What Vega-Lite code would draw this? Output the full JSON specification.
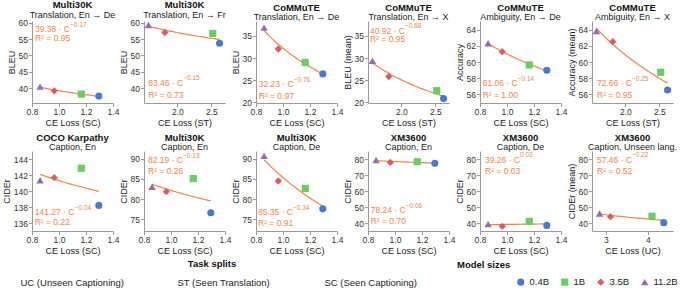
{
"$schema":"https://vega.github.io/schema/vega-lite/v6.json",
"padding":{"left":2,"top":0,"right":2,"bottom":0},
"columns":6,
"spacing":{"row":48,"column":31},
"bounds":"flush",
"resolve":{"scale":{"x":"independent","y":"independent","color":"shared","shape":"shared","strokeDash":"shared","size":"shared"}},
"config":{
 "font":"Liberation Sans",
 "view":{"stroke":null},
 "axis":{"grid":false,"labelFontSize":8.5,"titleFontSize":9,"titleFontWeight":"normal","tickSize":3.5,"labelPadding":1,"titlePadding":2,"domainColor":"#9a9a9a","tickColor":"#9a9a9a","labelColor":"#333333","titleColor":"#222222","labelFlush":false,"labelOverlap":false},
 "title":{"fontSize":9.5,"fontWeight":"bold","subtitleFontSize":9,"subtitlePadding":1,"offset":-1,"color":"#111111","subtitleColor":"#222222","anchor":"middle"},
 "legend":{"labelFontSize":9.5,"titleFontSize":9.5,"titleFontWeight":"bold","labelColor":"#222222","titleColor":"#111111","symbolSize":60,"columnPadding":10}
},
"concat":[
{"width":81,"height":82,"title":{"text":"Multi30K","subtitle":"Translation, En → De"},
 "data":{"values":[{"model":"0.4B","loss":1.295,"score":37.6,"split":"SC (Seen Captioning)"},{"model":"1B","loss":1.165,"score":38.2,"split":"SC (Seen Captioning)"},{"model":"3.5B","loss":0.965,"score":39.2,"split":"SC (Seen Captioning)"},{"model":"11.2B","loss":0.86,"score":40.5,"split":"SC (Seen Captioning)"}]},
 "layer":[
  {"transform":[{"regression":"score","on":"loss","method":"pow"}],"mark":{"type":"line","color":"#ee854a","strokeWidth":1.2},
   "encoding":{"x":{"field":"loss","type":"quantitative","scale":{"domain":[0.8,1.4],"nice":false,"zero":false},"axis":{"values":[0.8,1.0,1.2,1.4],"format":".1f","title":"CE Loss (SC)","labelOverlap":false}},"y":{"field":"score","type":"quantitative","scale":{"domain":[35.5,60.5],"nice":false,"zero":false},"axis":{"values":[40,45,50,55,60],"title":"BLEU","labelOverlap":false}}}},
  {"mark":{"type":"point","filled":true,"opacity":1},"encoding":{
   "x":{"field":"loss","type":"quantitative","scale":{"domain":[0.8,1.4],"nice":false,"zero":false},"axis":{"values":[0.8,1.0,1.2,1.4],"format":".1f","title":"CE Loss (SC)","labelOverlap":false}},"y":{"field":"score","type":"quantitative","scale":{"domain":[35.5,60.5],"nice":false,"zero":false},"axis":{"values":[40,45,50,55,60],"title":"BLEU","labelOverlap":false}},
   "size":{"field":"model","type":"nominal","scale":{"domain":["0.4B","1B","3.5B","11.2B"],"range":[50,55,85,65]},"legend":null},
   "shape":{"field":"model","type":"nominal","scale":{"domain":["0.4B","1B","3.5B","11.2B"],"range":["circle","square","diamond","triangle-up"]},"legend":{"title":["Model sizes"," "],"orient":"none","legendX":425,"legendY":256,"direction":"horizontal","titleOrient":"left","titleBaseline":"bottom","titleLineHeight":23}},
   "color":{"field":"model","type":"nominal","scale":{"domain":["0.4B","1B","3.5B","11.2B"],"range":["#4878d0","#6acc64","#d65f5f","#956cb4"]},"legend":{"title":["Model sizes"," "],"orient":"none","legendX":425,"legendY":256,"direction":"horizontal","titleOrient":"left","titleBaseline":"bottom","titleLineHeight":23}},
   "strokeDash":{"field":"split","type":"nominal","scale":{"domain":["UC (Unseen Captioning)","ST (Seen Translation)","SC (Seen Captioning)"],"range":[[1,0],[1,0],[1,0]]},"legend":{"title":"Task splits","orient":"none","legendX":-25,"legendY":238,"direction":"horizontal","titleAnchor":"middle","titlePadding":9,"symbolOpacity":0,"symbolSize":1,"columnPadding":40}}}},
  {"data":{"values":[{"a":"39.38 · C","e":"−0.17","r":"R² = 0.95"}]},"layer":[
   {"mark":{"type":"text","align":"left","baseline":"middle","fontSize":8.5,"color":"#ee854a"},"encoding":{"x":{"datum":0.822,"type":"quantitative","scale":{"domain":[0.8,1.4],"nice":false,"zero":false},"axis":{"values":[0.8,1.0,1.2,1.4],"format":".1f","title":"CE Loss (SC)","labelOverlap":false}},"y":{"datum":58.06,"type":"quantitative","scale":{"domain":[35.5,60.5],"nice":false,"zero":false},"axis":{"values":[40,45,50,55,60],"title":"BLEU","labelOverlap":false}},"text":{"field":"a"}}},
   {"mark":{"type":"text","align":"left","baseline":"middle","fontSize":6.5,"dx":35,"dy":-4.5,"color":"#ee854a"},"encoding":{"x":{"datum":0.822,"type":"quantitative","scale":{"domain":[0.8,1.4],"nice":false,"zero":false},"axis":{"values":[0.8,1.0,1.2,1.4],"format":".1f","title":"CE Loss (SC)","labelOverlap":false}},"y":{"datum":58.06,"type":"quantitative","scale":{"domain":[35.5,60.5],"nice":false,"zero":false},"axis":{"values":[40,45,50,55,60],"title":"BLEU","labelOverlap":false}},"text":{"field":"e"}}},
   {"mark":{"type":"text","align":"left","baseline":"middle","fontSize":8.5,"color":"#ee854a"},"encoding":{"x":{"datum":0.822,"type":"quantitative","scale":{"domain":[0.8,1.4],"nice":false,"zero":false},"axis":{"values":[0.8,1.0,1.2,1.4],"format":".1f","title":"CE Loss (SC)","labelOverlap":false}},"y":{"datum":55.3,"type":"quantitative","scale":{"domain":[35.5,60.5],"nice":false,"zero":false},"axis":{"values":[40,45,50,55,60],"title":"BLEU","labelOverlap":false}},"text":{"field":"r"}}}]}
 ]},
{"width":81,"height":82,"title":{"text":"Multi30K","subtitle":"Translation, En → Fr"},
 "data":{"values":[{"model":"0.4B","loss":2.62,"score":53.7,"split":"ST (Seen Translation)"},{"model":"1B","loss":2.52,"score":56.7,"split":"ST (Seen Translation)"},{"model":"3.5B","loss":1.815,"score":57.0,"split":"ST (Seen Translation)"},{"model":"11.2B","loss":1.575,"score":59.3,"split":"ST (Seen Translation)"}]},
 "layer":[
  {"transform":[{"regression":"score","on":"loss","method":"pow"}],"mark":{"type":"line","color":"#ee854a","strokeWidth":1.2},
   "encoding":{"x":{"field":"loss","type":"quantitative","scale":{"domain":[1.51,2.7],"nice":false,"zero":false},"axis":{"values":[2.0,2.5],"format":".1f","title":"CE Loss (ST)","labelOverlap":false}},"y":{"field":"score","type":"quantitative","scale":{"domain":[35.5,60.5],"nice":false,"zero":false},"axis":{"values":[40,45,50,55,60],"title":"BLEU","labelOverlap":false}}}},
  {"mark":{"type":"point","filled":true,"opacity":1},"encoding":{
   "x":{"field":"loss","type":"quantitative","scale":{"domain":[1.51,2.7],"nice":false,"zero":false},"axis":{"values":[2.0,2.5],"format":".1f","title":"CE Loss (ST)","labelOverlap":false}},"y":{"field":"score","type":"quantitative","scale":{"domain":[35.5,60.5],"nice":false,"zero":false},"axis":{"values":[40,45,50,55,60],"title":"BLEU","labelOverlap":false}},
   "size":{"field":"model","type":"nominal","scale":{"domain":["0.4B","1B","3.5B","11.2B"],"range":[50,55,85,65]},"legend":null},
   "shape":{"field":"model","type":"nominal","scale":{"domain":["0.4B","1B","3.5B","11.2B"],"range":["circle","square","diamond","triangle-up"]},"legend":{"title":["Model sizes"," "],"orient":"none","legendX":425,"legendY":256,"direction":"horizontal","titleOrient":"left","titleBaseline":"bottom","titleLineHeight":23}},
   "color":{"field":"model","type":"nominal","scale":{"domain":["0.4B","1B","3.5B","11.2B"],"range":["#4878d0","#6acc64","#d65f5f","#956cb4"]},"legend":{"title":["Model sizes"," "],"orient":"none","legendX":425,"legendY":256,"direction":"horizontal","titleOrient":"left","titleBaseline":"bottom","titleLineHeight":23}},
   "strokeDash":{"field":"split","type":"nominal","scale":{"domain":["UC (Unseen Captioning)","ST (Seen Translation)","SC (Seen Captioning)"],"range":[[1,0],[1,0],[1,0]]},"legend":{"title":"Task splits","orient":"none","legendX":-25,"legendY":238,"direction":"horizontal","titleAnchor":"middle","titlePadding":9,"symbolOpacity":0,"symbolSize":1,"columnPadding":40}}}},
  {"data":{"values":[{"a":"63.46 · C","e":"−0.15","r":"R² = 0.73"}]},"layer":[
   {"mark":{"type":"text","align":"left","baseline":"middle","fontSize":8.5,"color":"#ee854a"},"encoding":{"x":{"datum":1.573,"type":"quantitative","scale":{"domain":[1.51,2.7],"nice":false,"zero":false},"axis":{"values":[2.0,2.5],"format":".1f","title":"CE Loss (ST)","labelOverlap":false}},"y":{"datum":41.6,"type":"quantitative","scale":{"domain":[35.5,60.5],"nice":false,"zero":false},"axis":{"values":[40,45,50,55,60],"title":"BLEU","labelOverlap":false}},"text":{"field":"a"}}},
   {"mark":{"type":"text","align":"left","baseline":"middle","fontSize":6.5,"dx":35,"dy":-4.5,"color":"#ee854a"},"encoding":{"x":{"datum":1.573,"type":"quantitative","scale":{"domain":[1.51,2.7],"nice":false,"zero":false},"axis":{"values":[2.0,2.5],"format":".1f","title":"CE Loss (ST)","labelOverlap":false}},"y":{"datum":41.6,"type":"quantitative","scale":{"domain":[35.5,60.5],"nice":false,"zero":false},"axis":{"values":[40,45,50,55,60],"title":"BLEU","labelOverlap":false}},"text":{"field":"e"}}},
   {"mark":{"type":"text","align":"left","baseline":"middle","fontSize":8.5,"color":"#ee854a"},"encoding":{"x":{"datum":1.573,"type":"quantitative","scale":{"domain":[1.51,2.7],"nice":false,"zero":false},"axis":{"values":[2.0,2.5],"format":".1f","title":"CE Loss (ST)","labelOverlap":false}},"y":{"datum":37.9,"type":"quantitative","scale":{"domain":[35.5,60.5],"nice":false,"zero":false},"axis":{"values":[40,45,50,55,60],"title":"BLEU","labelOverlap":false}},"text":{"field":"r"}}}]}
 ]},
{"width":81,"height":82,"title":{"text":"CoMMuTE","subtitle":"Translation, En → De"},
 "data":{"values":[{"model":"0.4B","loss":1.295,"score":26.4,"split":"SC (Seen Captioning)"},{"model":"1B","loss":1.165,"score":29.0,"split":"SC (Seen Captioning)"},{"model":"3.5B","loss":0.965,"score":32.05,"split":"SC (Seen Captioning)"},{"model":"11.2B","loss":0.86,"score":36.9,"split":"SC (Seen Captioning)"}]},
 "layer":[
  {"transform":[{"regression":"score","on":"loss","method":"pow"}],"mark":{"type":"line","color":"#ee854a","strokeWidth":1.2},
   "encoding":{"x":{"field":"loss","type":"quantitative","scale":{"domain":[0.8,1.4],"nice":false,"zero":false},"axis":{"values":[0.8,1.0,1.2,1.4],"format":".1f","title":"CE Loss (SC)","labelOverlap":false}},"y":{"field":"score","type":"quantitative","scale":{"domain":[19.8,38.4],"nice":false,"zero":false},"axis":{"values":[20,25,30,35],"title":"BLEU","labelOverlap":false}}}},
  {"mark":{"type":"point","filled":true,"opacity":1},"encoding":{
   "x":{"field":"loss","type":"quantitative","scale":{"domain":[0.8,1.4],"nice":false,"zero":false},"axis":{"values":[0.8,1.0,1.2,1.4],"format":".1f","title":"CE Loss (SC)","labelOverlap":false}},"y":{"field":"score","type":"quantitative","scale":{"domain":[19.8,38.4],"nice":false,"zero":false},"axis":{"values":[20,25,30,35],"title":"BLEU","labelOverlap":false}},
   "size":{"field":"model","type":"nominal","scale":{"domain":["0.4B","1B","3.5B","11.2B"],"range":[50,55,85,65]},"legend":null},
   "shape":{"field":"model","type":"nominal","scale":{"domain":["0.4B","1B","3.5B","11.2B"],"range":["circle","square","diamond","triangle-up"]},"legend":{"title":["Model sizes"," "],"orient":"none","legendX":425,"legendY":256,"direction":"horizontal","titleOrient":"left","titleBaseline":"bottom","titleLineHeight":23}},
   "color":{"field":"model","type":"nominal","scale":{"domain":["0.4B","1B","3.5B","11.2B"],"range":["#4878d0","#6acc64","#d65f5f","#956cb4"]},"legend":{"title":["Model sizes"," "],"orient":"none","legendX":425,"legendY":256,"direction":"horizontal","titleOrient":"left","titleBaseline":"bottom","titleLineHeight":23}},
   "strokeDash":{"field":"split","type":"nominal","scale":{"domain":["UC (Unseen Captioning)","ST (Seen Translation)","SC (Seen Captioning)"],"range":[[1,0],[1,0],[1,0]]},"legend":{"title":"Task splits","orient":"none","legendX":-25,"legendY":238,"direction":"horizontal","titleAnchor":"middle","titlePadding":9,"symbolOpacity":0,"symbolSize":1,"columnPadding":40}}}},
  {"data":{"values":[{"a":"32.23 · C","e":"−0.76","r":"R² = 0.97"}]},"layer":[
   {"mark":{"type":"text","align":"left","baseline":"middle","fontSize":8.5,"color":"#ee854a"},"encoding":{"x":{"datum":0.82,"type":"quantitative","scale":{"domain":[0.8,1.4],"nice":false,"zero":false},"axis":{"values":[0.8,1.0,1.2,1.4],"format":".1f","title":"CE Loss (SC)","labelOverlap":false}},"y":{"datum":24.05,"type":"quantitative","scale":{"domain":[19.8,38.4],"nice":false,"zero":false},"axis":{"values":[20,25,30,35],"title":"BLEU","labelOverlap":false}},"text":{"field":"a"}}},
   {"mark":{"type":"text","align":"left","baseline":"middle","fontSize":6.5,"dx":35,"dy":-4.5,"color":"#ee854a"},"encoding":{"x":{"datum":0.82,"type":"quantitative","scale":{"domain":[0.8,1.4],"nice":false,"zero":false},"axis":{"values":[0.8,1.0,1.2,1.4],"format":".1f","title":"CE Loss (SC)","labelOverlap":false}},"y":{"datum":24.05,"type":"quantitative","scale":{"domain":[19.8,38.4],"nice":false,"zero":false},"axis":{"values":[20,25,30,35],"title":"BLEU","labelOverlap":false}},"text":{"field":"e"}}},
   {"mark":{"type":"text","align":"left","baseline":"middle","fontSize":8.5,"color":"#ee854a"},"encoding":{"x":{"datum":0.82,"type":"quantitative","scale":{"domain":[0.8,1.4],"nice":false,"zero":false},"axis":{"values":[0.8,1.0,1.2,1.4],"format":".1f","title":"CE Loss (SC)","labelOverlap":false}},"y":{"datum":21.46,"type":"quantitative","scale":{"domain":[19.8,38.4],"nice":false,"zero":false},"axis":{"values":[20,25,30,35],"title":"BLEU","labelOverlap":false}},"text":{"field":"r"}}}]}
 ]},
{"width":81,"height":82,"title":{"text":"CoMMuTE","subtitle":"Translation, En → X"},
 "data":{"values":[{"model":"0.4B","loss":2.62,"score":20.8,"split":"ST (Seen Translation)"},{"model":"1B","loss":2.52,"score":22.6,"split":"ST (Seen Translation)"},{"model":"3.5B","loss":1.815,"score":25.8,"split":"ST (Seen Translation)"},{"model":"11.2B","loss":1.575,"score":29.4,"split":"ST (Seen Translation)"}]},
 "layer":[
  {"transform":[{"regression":"score","on":"loss","method":"pow"}],"mark":{"type":"line","color":"#ee854a","strokeWidth":1.2},
   "encoding":{"x":{"field":"loss","type":"quantitative","scale":{"domain":[1.51,2.7],"nice":false,"zero":false},"axis":{"values":[2.0,2.5],"format":".1f","title":"CE Loss (ST)","labelOverlap":false}},"y":{"field":"score","type":"quantitative","scale":{"domain":[19.8,38.4],"nice":false,"zero":false},"axis":{"values":[20,25,30,35],"title":"BLEU (mean)","labelOverlap":false}}}},
  {"mark":{"type":"point","filled":true,"opacity":1},"encoding":{
   "x":{"field":"loss","type":"quantitative","scale":{"domain":[1.51,2.7],"nice":false,"zero":false},"axis":{"values":[2.0,2.5],"format":".1f","title":"CE Loss (ST)","labelOverlap":false}},"y":{"field":"score","type":"quantitative","scale":{"domain":[19.8,38.4],"nice":false,"zero":false},"axis":{"values":[20,25,30,35],"title":"BLEU (mean)","labelOverlap":false}},
   "size":{"field":"model","type":"nominal","scale":{"domain":["0.4B","1B","3.5B","11.2B"],"range":[50,55,85,65]},"legend":null},
   "shape":{"field":"model","type":"nominal","scale":{"domain":["0.4B","1B","3.5B","11.2B"],"range":["circle","square","diamond","triangle-up"]},"legend":{"title":["Model sizes"," "],"orient":"none","legendX":425,"legendY":256,"direction":"horizontal","titleOrient":"left","titleBaseline":"bottom","titleLineHeight":23}},
   "color":{"field":"model","type":"nominal","scale":{"domain":["0.4B","1B","3.5B","11.2B"],"range":["#4878d0","#6acc64","#d65f5f","#956cb4"]},"legend":{"title":["Model sizes"," "],"orient":"none","legendX":425,"legendY":256,"direction":"horizontal","titleOrient":"left","titleBaseline":"bottom","titleLineHeight":23}},
   "strokeDash":{"field":"split","type":"nominal","scale":{"domain":["UC (Unseen Captioning)","ST (Seen Translation)","SC (Seen Captioning)"],"range":[[1,0],[1,0],[1,0]]},"legend":{"title":"Task splits","orient":"none","legendX":-25,"legendY":238,"direction":"horizontal","titleAnchor":"middle","titlePadding":9,"symbolOpacity":0,"symbolSize":1,"columnPadding":40}}}},
  {"data":{"values":[{"a":"40.92 · C","e":"−0.68","r":"R² = 0.95"}]},"layer":[
   {"mark":{"type":"text","align":"left","baseline":"middle","fontSize":8.5,"color":"#ee854a"},"encoding":{"x":{"datum":1.54,"type":"quantitative","scale":{"domain":[1.51,2.7],"nice":false,"zero":false},"axis":{"values":[2.0,2.5],"format":".1f","title":"CE Loss (ST)","labelOverlap":false}},"y":{"datum":36.2,"type":"quantitative","scale":{"domain":[19.8,38.4],"nice":false,"zero":false},"axis":{"values":[20,25,30,35],"title":"BLEU (mean)","labelOverlap":false}},"text":{"field":"a"}}},
   {"mark":{"type":"text","align":"left","baseline":"middle","fontSize":6.5,"dx":35,"dy":-4.5,"color":"#ee854a"},"encoding":{"x":{"datum":1.54,"type":"quantitative","scale":{"domain":[1.51,2.7],"nice":false,"zero":false},"axis":{"values":[2.0,2.5],"format":".1f","title":"CE Loss (ST)","labelOverlap":false}},"y":{"datum":36.2,"type":"quantitative","scale":{"domain":[19.8,38.4],"nice":false,"zero":false},"axis":{"values":[20,25,30,35],"title":"BLEU (mean)","labelOverlap":false}},"text":{"field":"e"}}},
   {"mark":{"type":"text","align":"left","baseline":"middle","fontSize":8.5,"color":"#ee854a"},"encoding":{"x":{"datum":1.54,"type":"quantitative","scale":{"domain":[1.51,2.7],"nice":false,"zero":false},"axis":{"values":[2.0,2.5],"format":".1f","title":"CE Loss (ST)","labelOverlap":false}},"y":{"datum":34.3,"type":"quantitative","scale":{"domain":[19.8,38.4],"nice":false,"zero":false},"axis":{"values":[20,25,30,35],"title":"BLEU (mean)","labelOverlap":false}},"text":{"field":"r"}}}]}
 ]},
{"width":81,"height":82,"title":{"text":"CoMMuTE","subtitle":"Ambiguity, En → De"},
 "data":{"values":[{"model":"0.4B","loss":1.295,"score":58.97,"split":"SC (Seen Captioning)"},{"model":"1B","loss":1.165,"score":59.63,"split":"SC (Seen Captioning)"},{"model":"3.5B","loss":0.965,"score":61.28,"split":"SC (Seen Captioning)"},{"model":"11.2B","loss":0.86,"score":62.33,"split":"SC (Seen Captioning)"}]},
 "layer":[
  {"transform":[{"regression":"score","on":"loss","method":"pow"}],"mark":{"type":"line","color":"#ee854a","strokeWidth":1.2},
   "encoding":{"x":{"field":"loss","type":"quantitative","scale":{"domain":[0.8,1.4],"nice":false,"zero":false},"axis":{"values":[0.8,1.0,1.2,1.4],"format":".1f","title":"CE Loss (SC)","labelOverlap":false}},"y":{"field":"score","type":"quantitative","scale":{"domain":[54.9,65.1],"nice":false,"zero":false},"axis":{"values":[56,58,60,62,64],"title":"Accuracy","labelOverlap":false}}}},
  {"mark":{"type":"point","filled":true,"opacity":1},"encoding":{
   "x":{"field":"loss","type":"quantitative","scale":{"domain":[0.8,1.4],"nice":false,"zero":false},"axis":{"values":[0.8,1.0,1.2,1.4],"format":".1f","title":"CE Loss (SC)","labelOverlap":false}},"y":{"field":"score","type":"quantitative","scale":{"domain":[54.9,65.1],"nice":false,"zero":false},"axis":{"values":[56,58,60,62,64],"title":"Accuracy","labelOverlap":false}},
   "size":{"field":"model","type":"nominal","scale":{"domain":["0.4B","1B","3.5B","11.2B"],"range":[50,55,85,65]},"legend":null},
   "shape":{"field":"model","type":"nominal","scale":{"domain":["0.4B","1B","3.5B","11.2B"],"range":["circle","square","diamond","triangle-up"]},"legend":{"title":["Model sizes"," "],"orient":"none","legendX":425,"legendY":256,"direction":"horizontal","titleOrient":"left","titleBaseline":"bottom","titleLineHeight":23}},
   "color":{"field":"model","type":"nominal","scale":{"domain":["0.4B","1B","3.5B","11.2B"],"range":["#4878d0","#6acc64","#d65f5f","#956cb4"]},"legend":{"title":["Model sizes"," "],"orient":"none","legendX":425,"legendY":256,"direction":"horizontal","titleOrient":"left","titleBaseline":"bottom","titleLineHeight":23}},
   "strokeDash":{"field":"split","type":"nominal","scale":{"domain":["UC (Unseen Captioning)","ST (Seen Translation)","SC (Seen Captioning)"],"range":[[1,0],[1,0],[1,0]]},"legend":{"title":"Task splits","orient":"none","legendX":-25,"legendY":238,"direction":"horizontal","titleAnchor":"middle","titlePadding":9,"symbolOpacity":0,"symbolSize":1,"columnPadding":40}}}},
  {"data":{"values":[{"a":"61.06 · C","e":"−0.14","r":"R² = 1.00"}]},"layer":[
   {"mark":{"type":"text","align":"left","baseline":"middle","fontSize":8.5,"color":"#ee854a"},"encoding":{"x":{"datum":0.82,"type":"quantitative","scale":{"domain":[0.8,1.4],"nice":false,"zero":false},"axis":{"values":[0.8,1.0,1.2,1.4],"format":".1f","title":"CE Loss (SC)","labelOverlap":false}},"y":{"datum":57.35,"type":"quantitative","scale":{"domain":[54.9,65.1],"nice":false,"zero":false},"axis":{"values":[56,58,60,62,64],"title":"Accuracy","labelOverlap":false}},"text":{"field":"a"}}},
   {"mark":{"type":"text","align":"left","baseline":"middle","fontSize":6.5,"dx":35,"dy":-4.5,"color":"#ee854a"},"encoding":{"x":{"datum":0.82,"type":"quantitative","scale":{"domain":[0.8,1.4],"nice":false,"zero":false},"axis":{"values":[0.8,1.0,1.2,1.4],"format":".1f","title":"CE Loss (SC)","labelOverlap":false}},"y":{"datum":57.35,"type":"quantitative","scale":{"domain":[54.9,65.1],"nice":false,"zero":false},"axis":{"values":[56,58,60,62,64],"title":"Accuracy","labelOverlap":false}},"text":{"field":"e"}}},
   {"mark":{"type":"text","align":"left","baseline":"middle","fontSize":8.5,"color":"#ee854a"},"encoding":{"x":{"datum":0.82,"type":"quantitative","scale":{"domain":[0.8,1.4],"nice":false,"zero":false},"axis":{"values":[0.8,1.0,1.2,1.4],"format":".1f","title":"CE Loss (SC)","labelOverlap":false}},"y":{"datum":55.9,"type":"quantitative","scale":{"domain":[54.9,65.1],"nice":false,"zero":false},"axis":{"values":[56,58,60,62,64],"title":"Accuracy","labelOverlap":false}},"text":{"field":"r"}}}]}
 ]},
{"width":81,"height":82,"title":{"text":"CoMMuTE","subtitle":"Ambiguity, En → X"},
 "data":{"values":[{"model":"0.4B","loss":2.62,"score":56.52,"split":"ST (Seen Translation)"},{"model":"1B","loss":2.52,"score":58.72,"split":"ST (Seen Translation)"},{"model":"3.5B","loss":1.815,"score":62.53,"split":"ST (Seen Translation)"},{"model":"11.2B","loss":1.575,"score":63.86,"split":"ST (Seen Translation)"}]},
 "layer":[
  {"transform":[{"regression":"score","on":"loss","method":"pow"}],"mark":{"type":"line","color":"#ee854a","strokeWidth":1.2},
   "encoding":{"x":{"field":"loss","type":"quantitative","scale":{"domain":[1.51,2.7],"nice":false,"zero":false},"axis":{"values":[2.0,2.5],"format":".1f","title":"CE Loss (ST)","labelOverlap":false}},"y":{"field":"score","type":"quantitative","scale":{"domain":[54.9,65.1],"nice":false,"zero":false},"axis":{"values":[56,58,60,62,64],"title":"Accuracy (mean)","labelOverlap":false}}}},
  {"mark":{"type":"point","filled":true,"opacity":1},"encoding":{
   "x":{"field":"loss","type":"quantitative","scale":{"domain":[1.51,2.7],"nice":false,"zero":false},"axis":{"values":[2.0,2.5],"format":".1f","title":"CE Loss (ST)","labelOverlap":false}},"y":{"field":"score","type":"quantitative","scale":{"domain":[54.9,65.1],"nice":false,"zero":false},"axis":{"values":[56,58,60,62,64],"title":"Accuracy (mean)","labelOverlap":false}},
   "size":{"field":"model","type":"nominal","scale":{"domain":["0.4B","1B","3.5B","11.2B"],"range":[50,55,85,65]},"legend":null},
   "shape":{"field":"model","type":"nominal","scale":{"domain":["0.4B","1B","3.5B","11.2B"],"range":["circle","square","diamond","triangle-up"]},"legend":{"title":["Model sizes"," "],"orient":"none","legendX":425,"legendY":256,"direction":"horizontal","titleOrient":"left","titleBaseline":"bottom","titleLineHeight":23}},
   "color":{"field":"model","type":"nominal","scale":{"domain":["0.4B","1B","3.5B","11.2B"],"range":["#4878d0","#6acc64","#d65f5f","#956cb4"]},"legend":{"title":["Model sizes"," "],"orient":"none","legendX":425,"legendY":256,"direction":"horizontal","titleOrient":"left","titleBaseline":"bottom","titleLineHeight":23}},
   "strokeDash":{"field":"split","type":"nominal","scale":{"domain":["UC (Unseen Captioning)","ST (Seen Translation)","SC (Seen Captioning)"],"range":[[1,0],[1,0],[1,0]]},"legend":{"title":"Task splits","orient":"none","legendX":-25,"legendY":238,"direction":"horizontal","titleAnchor":"middle","titlePadding":9,"symbolOpacity":0,"symbolSize":1,"columnPadding":40}}}},
  {"data":{"values":[{"a":"72.66 · C","e":"−0.25","r":"R² = 0.95"}]},"layer":[
   {"mark":{"type":"text","align":"left","baseline":"middle","fontSize":8.5,"color":"#ee854a"},"encoding":{"x":{"datum":1.584,"type":"quantitative","scale":{"domain":[1.51,2.7],"nice":false,"zero":false},"axis":{"values":[2.0,2.5],"format":".1f","title":"CE Loss (ST)","labelOverlap":false}},"y":{"datum":57.35,"type":"quantitative","scale":{"domain":[54.9,65.1],"nice":false,"zero":false},"axis":{"values":[56,58,60,62,64],"title":"Accuracy (mean)","labelOverlap":false}},"text":{"field":"a"}}},
   {"mark":{"type":"text","align":"left","baseline":"middle","fontSize":6.5,"dx":35,"dy":-4.5,"color":"#ee854a"},"encoding":{"x":{"datum":1.584,"type":"quantitative","scale":{"domain":[1.51,2.7],"nice":false,"zero":false},"axis":{"values":[2.0,2.5],"format":".1f","title":"CE Loss (ST)","labelOverlap":false}},"y":{"datum":57.35,"type":"quantitative","scale":{"domain":[54.9,65.1],"nice":false,"zero":false},"axis":{"values":[56,58,60,62,64],"title":"Accuracy (mean)","labelOverlap":false}},"text":{"field":"e"}}},
   {"mark":{"type":"text","align":"left","baseline":"middle","fontSize":8.5,"color":"#ee854a"},"encoding":{"x":{"datum":1.584,"type":"quantitative","scale":{"domain":[1.51,2.7],"nice":false,"zero":false},"axis":{"values":[2.0,2.5],"format":".1f","title":"CE Loss (ST)","labelOverlap":false}},"y":{"datum":55.9,"type":"quantitative","scale":{"domain":[54.9,65.1],"nice":false,"zero":false},"axis":{"values":[56,58,60,62,64],"title":"Accuracy (mean)","labelOverlap":false}},"text":{"field":"r"}}}]}
 ]},
{"width":81,"height":80,"title":{"text":"COCO Karpathy","subtitle":"Caption, En"},
 "data":{"values":[{"model":"0.4B","loss":1.295,"score":138.2,"split":"SC (Seen Captioning)"},{"model":"1B","loss":1.165,"score":142.84,"split":"SC (Seen Captioning)"},{"model":"3.5B","loss":0.965,"score":141.67,"split":"SC (Seen Captioning)"},{"model":"11.2B","loss":0.86,"score":141.34,"split":"SC (Seen Captioning)"}]},
 "layer":[
  {"transform":[{"regression":"score","on":"loss","method":"pow"}],"mark":{"type":"line","color":"#ee854a","strokeWidth":1.2},
   "encoding":{"x":{"field":"loss","type":"quantitative","scale":{"domain":[0.8,1.4],"nice":false,"zero":false},"axis":{"values":[0.8,1.0,1.2,1.4],"format":".1f","title":"CE Loss (SC)","labelOverlap":false}},"y":{"field":"score","type":"quantitative","scale":{"domain":[135,145],"nice":false,"zero":false},"axis":{"values":[136,138,140,142,144],"title":"CIDEr","labelOverlap":false}}}},
  {"mark":{"type":"point","filled":true,"opacity":1},"encoding":{
   "x":{"field":"loss","type":"quantitative","scale":{"domain":[0.8,1.4],"nice":false,"zero":false},"axis":{"values":[0.8,1.0,1.2,1.4],"format":".1f","title":"CE Loss (SC)","labelOverlap":false}},"y":{"field":"score","type":"quantitative","scale":{"domain":[135,145],"nice":false,"zero":false},"axis":{"values":[136,138,140,142,144],"title":"CIDEr","labelOverlap":false}},
   "size":{"field":"model","type":"nominal","scale":{"domain":["0.4B","1B","3.5B","11.2B"],"range":[50,55,85,65]},"legend":null},
   "shape":{"field":"model","type":"nominal","scale":{"domain":["0.4B","1B","3.5B","11.2B"],"range":["circle","square","diamond","triangle-up"]},"legend":{"title":["Model sizes"," "],"orient":"none","legendX":425,"legendY":256,"direction":"horizontal","titleOrient":"left","titleBaseline":"bottom","titleLineHeight":23}},
   "color":{"field":"model","type":"nominal","scale":{"domain":["0.4B","1B","3.5B","11.2B"],"range":["#4878d0","#6acc64","#d65f5f","#956cb4"]},"legend":{"title":["Model sizes"," "],"orient":"none","legendX":425,"legendY":256,"direction":"horizontal","titleOrient":"left","titleBaseline":"bottom","titleLineHeight":23}},
   "strokeDash":{"field":"split","type":"nominal","scale":{"domain":["UC (Unseen Captioning)","ST (Seen Translation)","SC (Seen Captioning)"],"range":[[1,0],[1,0],[1,0]]},"legend":{"title":"Task splits","orient":"none","legendX":-25,"legendY":238,"direction":"horizontal","titleAnchor":"middle","titlePadding":9,"symbolOpacity":0,"symbolSize":1,"columnPadding":40}}}},
  {"data":{"values":[{"a":"141.27 · C","e":"−0.04","r":"R² = 0.22"}]},"layer":[
   {"mark":{"type":"text","align":"left","baseline":"middle","fontSize":8.5,"color":"#ee854a"},"encoding":{"x":{"datum":0.82,"type":"quantitative","scale":{"domain":[0.8,1.4],"nice":false,"zero":false},"axis":{"values":[0.8,1.0,1.2,1.4],"format":".1f","title":"CE Loss (SC)","labelOverlap":false}},"y":{"datum":137.35,"type":"quantitative","scale":{"domain":[135,145],"nice":false,"zero":false},"axis":{"values":[136,138,140,142,144],"title":"CIDEr","labelOverlap":false}},"text":{"field":"a"}}},
   {"mark":{"type":"text","align":"left","baseline":"middle","fontSize":6.5,"dx":40,"dy":-4.5,"color":"#ee854a"},"encoding":{"x":{"datum":0.82,"type":"quantitative","scale":{"domain":[0.8,1.4],"nice":false,"zero":false},"axis":{"values":[0.8,1.0,1.2,1.4],"format":".1f","title":"CE Loss (SC)","labelOverlap":false}},"y":{"datum":137.35,"type":"quantitative","scale":{"domain":[135,145],"nice":false,"zero":false},"axis":{"values":[136,138,140,142,144],"title":"CIDEr","labelOverlap":false}},"text":{"field":"e"}}},
   {"mark":{"type":"text","align":"left","baseline":"middle","fontSize":8.5,"color":"#ee854a"},"encoding":{"x":{"datum":0.82,"type":"quantitative","scale":{"domain":[0.8,1.4],"nice":false,"zero":false},"axis":{"values":[0.8,1.0,1.2,1.4],"format":".1f","title":"CE Loss (SC)","labelOverlap":false}},"y":{"datum":136.1,"type":"quantitative","scale":{"domain":[135,145],"nice":false,"zero":false},"axis":{"values":[136,138,140,142,144],"title":"CIDEr","labelOverlap":false}},"text":{"field":"r"}}}]}
 ]},
{"width":81,"height":80,"title":{"text":"Multi30K","subtitle":"Caption, En"},
 "data":{"values":[{"model":"0.4B","loss":1.295,"score":76.6,"split":"SC (Seen Captioning)"},{"model":"1B","loss":1.165,"score":85.07,"split":"SC (Seen Captioning)"},{"model":"3.5B","loss":0.965,"score":81.83,"split":"SC (Seen Captioning)"},{"model":"11.2B","loss":0.86,"score":83.04,"split":"SC (Seen Captioning)"}]},
 "layer":[
  {"transform":[{"regression":"score","on":"loss","method":"pow"}],"mark":{"type":"line","color":"#ee854a","strokeWidth":1.2},
   "encoding":{"x":{"field":"loss","type":"quantitative","scale":{"domain":[0.8,1.4],"nice":false,"zero":false},"axis":{"values":[0.8,1.0,1.2,1.4],"format":".1f","title":"CE Loss (SC)","labelOverlap":false}},"y":{"field":"score","type":"quantitative","scale":{"domain":[72.1,91.9],"nice":false,"zero":false},"axis":{"values":[75,80,85,90],"title":"CIDEr","labelOverlap":false}}}},
  {"mark":{"type":"point","filled":true,"opacity":1},"encoding":{
   "x":{"field":"loss","type":"quantitative","scale":{"domain":[0.8,1.4],"nice":false,"zero":false},"axis":{"values":[0.8,1.0,1.2,1.4],"format":".1f","title":"CE Loss (SC)","labelOverlap":false}},"y":{"field":"score","type":"quantitative","scale":{"domain":[72.1,91.9],"nice":false,"zero":false},"axis":{"values":[75,80,85,90],"title":"CIDEr","labelOverlap":false}},
   "size":{"field":"model","type":"nominal","scale":{"domain":["0.4B","1B","3.5B","11.2B"],"range":[50,55,85,65]},"legend":null},
   "shape":{"field":"model","type":"nominal","scale":{"domain":["0.4B","1B","3.5B","11.2B"],"range":["circle","square","diamond","triangle-up"]},"legend":{"title":["Model sizes"," "],"orient":"none","legendX":425,"legendY":256,"direction":"horizontal","titleOrient":"left","titleBaseline":"bottom","titleLineHeight":23}},
   "color":{"field":"model","type":"nominal","scale":{"domain":["0.4B","1B","3.5B","11.2B"],"range":["#4878d0","#6acc64","#d65f5f","#956cb4"]},"legend":{"title":["Model sizes"," "],"orient":"none","legendX":425,"legendY":256,"direction":"horizontal","titleOrient":"left","titleBaseline":"bottom","titleLineHeight":23}},
   "strokeDash":{"field":"split","type":"nominal","scale":{"domain":["UC (Unseen Captioning)","ST (Seen Translation)","SC (Seen Captioning)"],"range":[[1,0],[1,0],[1,0]]},"legend":{"title":"Task splits","orient":"none","legendX":-25,"legendY":238,"direction":"horizontal","titleAnchor":"middle","titlePadding":9,"symbolOpacity":0,"symbolSize":1,"columnPadding":40}}}},
  {"data":{"values":[{"a":"82.19 · C","e":"−0.13","r":"R² = 0.26"}]},"layer":[
   {"mark":{"type":"text","align":"left","baseline":"middle","fontSize":8.5,"color":"#ee854a"},"encoding":{"x":{"datum":0.83,"type":"quantitative","scale":{"domain":[0.8,1.4],"nice":false,"zero":false},"axis":{"values":[0.8,1.0,1.2,1.4],"format":".1f","title":"CE Loss (SC)","labelOverlap":false}},"y":{"datum":89.6,"type":"quantitative","scale":{"domain":[72.1,91.9],"nice":false,"zero":false},"axis":{"values":[75,80,85,90],"title":"CIDEr","labelOverlap":false}},"text":{"field":"a"}}},
   {"mark":{"type":"text","align":"left","baseline":"middle","fontSize":6.5,"dx":35,"dy":-4.5,"color":"#ee854a"},"encoding":{"x":{"datum":0.83,"type":"quantitative","scale":{"domain":[0.8,1.4],"nice":false,"zero":false},"axis":{"values":[0.8,1.0,1.2,1.4],"format":".1f","title":"CE Loss (SC)","labelOverlap":false}},"y":{"datum":89.6,"type":"quantitative","scale":{"domain":[72.1,91.9],"nice":false,"zero":false},"axis":{"values":[75,80,85,90],"title":"CIDEr","labelOverlap":false}},"text":{"field":"e"}}},
   {"mark":{"type":"text","align":"left","baseline":"middle","fontSize":8.5,"color":"#ee854a"},"encoding":{"x":{"datum":0.83,"type":"quantitative","scale":{"domain":[0.8,1.4],"nice":false,"zero":false},"axis":{"values":[0.8,1.0,1.2,1.4],"format":".1f","title":"CE Loss (SC)","labelOverlap":false}},"y":{"datum":87.0,"type":"quantitative","scale":{"domain":[72.1,91.9],"nice":false,"zero":false},"axis":{"values":[75,80,85,90],"title":"CIDEr","labelOverlap":false}},"text":{"field":"r"}}}]}
 ]},
{"width":81,"height":80,"title":{"text":"Multi30K","subtitle":"Caption, De"},
 "data":{"values":[{"model":"0.4B","loss":1.295,"score":77.58,"split":"SC (Seen Captioning)"},{"model":"1B","loss":1.165,"score":82.65,"split":"SC (Seen Captioning)"},{"model":"3.5B","loss":0.965,"score":84.48,"split":"SC (Seen Captioning)"},{"model":"11.2B","loss":0.86,"score":90.69,"split":"SC (Seen Captioning)"}]},
 "layer":[
  {"transform":[{"regression":"score","on":"loss","method":"pow"}],"mark":{"type":"line","color":"#ee854a","strokeWidth":1.2},
   "encoding":{"x":{"field":"loss","type":"quantitative","scale":{"domain":[0.8,1.4],"nice":false,"zero":false},"axis":{"values":[0.8,1.0,1.2,1.4],"format":".1f","title":"CE Loss (SC)","labelOverlap":false}},"y":{"field":"score","type":"quantitative","scale":{"domain":[72.1,91.9],"nice":false,"zero":false},"axis":{"values":[75,80,85,90],"title":"CIDEr","labelOverlap":false}}}},
  {"mark":{"type":"point","filled":true,"opacity":1},"encoding":{
   "x":{"field":"loss","type":"quantitative","scale":{"domain":[0.8,1.4],"nice":false,"zero":false},"axis":{"values":[0.8,1.0,1.2,1.4],"format":".1f","title":"CE Loss (SC)","labelOverlap":false}},"y":{"field":"score","type":"quantitative","scale":{"domain":[72.1,91.9],"nice":false,"zero":false},"axis":{"values":[75,80,85,90],"title":"CIDEr","labelOverlap":false}},
   "size":{"field":"model","type":"nominal","scale":{"domain":["0.4B","1B","3.5B","11.2B"],"range":[50,55,85,65]},"legend":null},
   "shape":{"field":"model","type":"nominal","scale":{"domain":["0.4B","1B","3.5B","11.2B"],"range":["circle","square","diamond","triangle-up"]},"legend":{"title":["Model sizes"," "],"orient":"none","legendX":425,"legendY":256,"direction":"horizontal","titleOrient":"left","titleBaseline":"bottom","titleLineHeight":23}},
   "color":{"field":"model","type":"nominal","scale":{"domain":["0.4B","1B","3.5B","11.2B"],"range":["#4878d0","#6acc64","#d65f5f","#956cb4"]},"legend":{"title":["Model sizes"," "],"orient":"none","legendX":425,"legendY":256,"direction":"horizontal","titleOrient":"left","titleBaseline":"bottom","titleLineHeight":23}},
   "strokeDash":{"field":"split","type":"nominal","scale":{"domain":["UC (Unseen Captioning)","ST (Seen Translation)","SC (Seen Captioning)"],"range":[[1,0],[1,0],[1,0]]},"legend":{"title":"Task splits","orient":"none","legendX":-25,"legendY":238,"direction":"horizontal","titleAnchor":"middle","titlePadding":9,"symbolOpacity":0,"symbolSize":1,"columnPadding":40}}}},
  {"data":{"values":[{"a":"85.35 · C","e":"−0.34","r":"R² = 0.91"}]},"layer":[
   {"mark":{"type":"text","align":"left","baseline":"middle","fontSize":8.5,"color":"#ee854a"},"encoding":{"x":{"datum":0.815,"type":"quantitative","scale":{"domain":[0.8,1.4],"nice":false,"zero":false},"axis":{"values":[0.8,1.0,1.2,1.4],"format":".1f","title":"CE Loss (SC)","labelOverlap":false}},"y":{"datum":76.76,"type":"quantitative","scale":{"domain":[72.1,91.9],"nice":false,"zero":false},"axis":{"values":[75,80,85,90],"title":"CIDEr","labelOverlap":false}},"text":{"field":"a"}}},
   {"mark":{"type":"text","align":"left","baseline":"middle","fontSize":6.5,"dx":35,"dy":-4.5,"color":"#ee854a"},"encoding":{"x":{"datum":0.815,"type":"quantitative","scale":{"domain":[0.8,1.4],"nice":false,"zero":false},"axis":{"values":[0.8,1.0,1.2,1.4],"format":".1f","title":"CE Loss (SC)","labelOverlap":false}},"y":{"datum":76.76,"type":"quantitative","scale":{"domain":[72.1,91.9],"nice":false,"zero":false},"axis":{"values":[75,80,85,90],"title":"CIDEr","labelOverlap":false}},"text":{"field":"e"}}},
   {"mark":{"type":"text","align":"left","baseline":"middle","fontSize":8.5,"color":"#ee854a"},"encoding":{"x":{"datum":0.815,"type":"quantitative","scale":{"domain":[0.8,1.4],"nice":false,"zero":false},"axis":{"values":[0.8,1.0,1.2,1.4],"format":".1f","title":"CE Loss (SC)","labelOverlap":false}},"y":{"datum":74.2,"type":"quantitative","scale":{"domain":[72.1,91.9],"nice":false,"zero":false},"axis":{"values":[75,80,85,90],"title":"CIDEr","labelOverlap":false}},"text":{"field":"r"}}}]}
 ]},
{"width":81,"height":80,"title":{"text":"XM3600","subtitle":"Caption, En"},
 "data":{"values":[{"model":"0.4B","loss":1.295,"score":77.4,"split":"SC (Seen Captioning)"},{"model":"1B","loss":1.165,"score":78.4,"split":"SC (Seen Captioning)"},{"model":"3.5B","loss":0.965,"score":78.0,"split":"SC (Seen Captioning)"},{"model":"11.2B","loss":0.86,"score":79.45,"split":"SC (Seen Captioning)"}]},
 "layer":[
  {"transform":[{"regression":"score","on":"loss","method":"pow"}],"mark":{"type":"line","color":"#ee854a","strokeWidth":1.2},
   "encoding":{"x":{"field":"loss","type":"quantitative","scale":{"domain":[0.8,1.4],"nice":false,"zero":false},"axis":{"values":[0.8,1.0,1.2,1.4],"format":".1f","title":"CE Loss (SC)","labelOverlap":false}},"y":{"field":"score","type":"quantitative","scale":{"domain":[35.3,85.1],"nice":false,"zero":false},"axis":{"values":[40,50,60,70,80],"title":"CIDEr","labelOverlap":false}}}},
  {"mark":{"type":"point","filled":true,"opacity":1},"encoding":{
   "x":{"field":"loss","type":"quantitative","scale":{"domain":[0.8,1.4],"nice":false,"zero":false},"axis":{"values":[0.8,1.0,1.2,1.4],"format":".1f","title":"CE Loss (SC)","labelOverlap":false}},"y":{"field":"score","type":"quantitative","scale":{"domain":[35.3,85.1],"nice":false,"zero":false},"axis":{"values":[40,50,60,70,80],"title":"CIDEr","labelOverlap":false}},
   "size":{"field":"model","type":"nominal","scale":{"domain":["0.4B","1B","3.5B","11.2B"],"range":[50,55,85,65]},"legend":null},
   "shape":{"field":"model","type":"nominal","scale":{"domain":["0.4B","1B","3.5B","11.2B"],"range":["circle","square","diamond","triangle-up"]},"legend":{"title":["Model sizes"," "],"orient":"none","legendX":425,"legendY":256,"direction":"horizontal","titleOrient":"left","titleBaseline":"bottom","titleLineHeight":23}},
   "color":{"field":"model","type":"nominal","scale":{"domain":["0.4B","1B","3.5B","11.2B"],"range":["#4878d0","#6acc64","#d65f5f","#956cb4"]},"legend":{"title":["Model sizes"," "],"orient":"none","legendX":425,"legendY":256,"direction":"horizontal","titleOrient":"left","titleBaseline":"bottom","titleLineHeight":23}},
   "strokeDash":{"field":"split","type":"nominal","scale":{"domain":["UC (Unseen Captioning)","ST (Seen Translation)","SC (Seen Captioning)"],"range":[[1,0],[1,0],[1,0]]},"legend":{"title":"Task splits","orient":"none","legendX":-25,"legendY":238,"direction":"horizontal","titleAnchor":"middle","titlePadding":9,"symbolOpacity":0,"symbolSize":1,"columnPadding":40}}}},
  {"data":{"values":[{"a":"78.24 · C","e":"−0.06","r":"R² = 0.70"}]},"layer":[
   {"mark":{"type":"text","align":"left","baseline":"middle","fontSize":8.5,"color":"#ee854a"},"encoding":{"x":{"datum":0.82,"type":"quantitative","scale":{"domain":[0.8,1.4],"nice":false,"zero":false},"axis":{"values":[0.8,1.0,1.2,1.4],"format":".1f","title":"CE Loss (SC)","labelOverlap":false}},"y":{"datum":48.25,"type":"quantitative","scale":{"domain":[35.3,85.1],"nice":false,"zero":false},"axis":{"values":[40,50,60,70,80],"title":"CIDEr","labelOverlap":false}},"text":{"field":"a"}}},
   {"mark":{"type":"text","align":"left","baseline":"middle","fontSize":6.5,"dx":35,"dy":-4.5,"color":"#ee854a"},"encoding":{"x":{"datum":0.82,"type":"quantitative","scale":{"domain":[0.8,1.4],"nice":false,"zero":false},"axis":{"values":[0.8,1.0,1.2,1.4],"format":".1f","title":"CE Loss (SC)","labelOverlap":false}},"y":{"datum":48.25,"type":"quantitative","scale":{"domain":[35.3,85.1],"nice":false,"zero":false},"axis":{"values":[40,50,60,70,80],"title":"CIDEr","labelOverlap":false}},"text":{"field":"e"}}},
   {"mark":{"type":"text","align":"left","baseline":"middle","fontSize":8.5,"color":"#ee854a"},"encoding":{"x":{"datum":0.82,"type":"quantitative","scale":{"domain":[0.8,1.4],"nice":false,"zero":false},"axis":{"values":[0.8,1.0,1.2,1.4],"format":".1f","title":"CE Loss (SC)","labelOverlap":false}},"y":{"datum":41.4,"type":"quantitative","scale":{"domain":[35.3,85.1],"nice":false,"zero":false},"axis":{"values":[40,50,60,70,80],"title":"CIDEr","labelOverlap":false}},"text":{"field":"r"}}}]}
 ]},
{"width":81,"height":80,"title":{"text":"XM3600","subtitle":"Caption, De"},
 "data":{"values":[{"model":"0.4B","loss":1.295,"score":38.8,"split":"SC (Seen Captioning)"},{"model":"1B","loss":1.165,"score":41.3,"split":"SC (Seen Captioning)"},{"model":"3.5B","loss":0.965,"score":38.2,"split":"SC (Seen Captioning)"},{"model":"11.2B","loss":0.86,"score":39.6,"split":"SC (Seen Captioning)"}]},
 "layer":[
  {"transform":[{"regression":"score","on":"loss","method":"pow"}],"mark":{"type":"line","color":"#ee854a","strokeWidth":1.2},
   "encoding":{"x":{"field":"loss","type":"quantitative","scale":{"domain":[0.8,1.4],"nice":false,"zero":false},"axis":{"values":[0.8,1.0,1.2,1.4],"format":".1f","title":"CE Loss (SC)","labelOverlap":false}},"y":{"field":"score","type":"quantitative","scale":{"domain":[35.3,85.1],"nice":false,"zero":false},"axis":{"values":[40,50,60,70,80],"title":"CIDEr","labelOverlap":false}}}},
  {"mark":{"type":"point","filled":true,"opacity":1},"encoding":{
   "x":{"field":"loss","type":"quantitative","scale":{"domain":[0.8,1.4],"nice":false,"zero":false},"axis":{"values":[0.8,1.0,1.2,1.4],"format":".1f","title":"CE Loss (SC)","labelOverlap":false}},"y":{"field":"score","type":"quantitative","scale":{"domain":[35.3,85.1],"nice":false,"zero":false},"axis":{"values":[40,50,60,70,80],"title":"CIDEr","labelOverlap":false}},
   "size":{"field":"model","type":"nominal","scale":{"domain":["0.4B","1B","3.5B","11.2B"],"range":[50,55,85,65]},"legend":null},
   "shape":{"field":"model","type":"nominal","scale":{"domain":["0.4B","1B","3.5B","11.2B"],"range":["circle","square","diamond","triangle-up"]},"legend":{"title":["Model sizes"," "],"orient":"none","legendX":425,"legendY":256,"direction":"horizontal","titleOrient":"left","titleBaseline":"bottom","titleLineHeight":23}},
   "color":{"field":"model","type":"nominal","scale":{"domain":["0.4B","1B","3.5B","11.2B"],"range":["#4878d0","#6acc64","#d65f5f","#956cb4"]},"legend":{"title":["Model sizes"," "],"orient":"none","legendX":425,"legendY":256,"direction":"horizontal","titleOrient":"left","titleBaseline":"bottom","titleLineHeight":23}},
   "strokeDash":{"field":"split","type":"nominal","scale":{"domain":["UC (Unseen Captioning)","ST (Seen Translation)","SC (Seen Captioning)"],"range":[[1,0],[1,0],[1,0]]},"legend":{"title":"Task splits","orient":"none","legendX":-25,"legendY":238,"direction":"horizontal","titleAnchor":"middle","titlePadding":9,"symbolOpacity":0,"symbolSize":1,"columnPadding":40}}}},
  {"data":{"values":[{"a":"39.26 · C","e":"0.03","r":"R² = 0.03"}]},"layer":[
   {"mark":{"type":"text","align":"left","baseline":"middle","fontSize":8.5,"color":"#ee854a"},"encoding":{"x":{"datum":0.837,"type":"quantitative","scale":{"domain":[0.8,1.4],"nice":false,"zero":false},"axis":{"values":[0.8,1.0,1.2,1.4],"format":".1f","title":"CE Loss (SC)","labelOverlap":false}},"y":{"datum":79.6,"type":"quantitative","scale":{"domain":[35.3,85.1],"nice":false,"zero":false},"axis":{"values":[40,50,60,70,80],"title":"CIDEr","labelOverlap":false}},"text":{"field":"a"}}},
   {"mark":{"type":"text","align":"left","baseline":"middle","fontSize":6.5,"dx":35,"dy":-4.5,"color":"#ee854a"},"encoding":{"x":{"datum":0.837,"type":"quantitative","scale":{"domain":[0.8,1.4],"nice":false,"zero":false},"axis":{"values":[0.8,1.0,1.2,1.4],"format":".1f","title":"CE Loss (SC)","labelOverlap":false}},"y":{"datum":79.6,"type":"quantitative","scale":{"domain":[35.3,85.1],"nice":false,"zero":false},"axis":{"values":[40,50,60,70,80],"title":"CIDEr","labelOverlap":false}},"text":{"field":"e"}}},
   {"mark":{"type":"text","align":"left","baseline":"middle","fontSize":8.5,"color":"#ee854a"},"encoding":{"x":{"datum":0.837,"type":"quantitative","scale":{"domain":[0.8,1.4],"nice":false,"zero":false},"axis":{"values":[0.8,1.0,1.2,1.4],"format":".1f","title":"CE Loss (SC)","labelOverlap":false}},"y":{"datum":72.7,"type":"quantitative","scale":{"domain":[35.3,85.1],"nice":false,"zero":false},"axis":{"values":[40,50,60,70,80],"title":"CIDEr","labelOverlap":false}},"text":{"field":"r"}}}]}
 ]},
{"width":81,"height":80,"title":{"text":"XM3600","subtitle":"Caption, Unseen lang."},
 "data":{"values":[{"model":"0.4B","loss":4.38,"score":40.5,"split":"UC (Unseen Captioning)"},{"model":"1B","loss":4.1,"score":44.5,"split":"UC (Unseen Captioning)"},{"model":"3.5B","loss":3.11,"score":44.2,"split":"UC (Unseen Captioning)"},{"model":"11.2B","loss":2.85,"score":46.2,"split":"UC (Unseen Captioning)"}]},
 "layer":[
  {"transform":[{"regression":"score","on":"loss","method":"pow"}],"mark":{"type":"line","color":"#ee854a","strokeWidth":1.2},
   "encoding":{"x":{"field":"loss","type":"quantitative","scale":{"domain":[2.67,4.6],"nice":false,"zero":false},"axis":{"values":[3,4],"format":"d","title":"CE Loss (UC)","labelOverlap":false}},"y":{"field":"score","type":"quantitative","scale":{"domain":[35.3,85.1],"nice":false,"zero":false},"axis":{"values":[40,50,60,70,80],"title":"CIDEr (mean)","labelOverlap":false}}}},
  {"mark":{"type":"point","filled":true,"opacity":1},"encoding":{
   "x":{"field":"loss","type":"quantitative","scale":{"domain":[2.67,4.6],"nice":false,"zero":false},"axis":{"values":[3,4],"format":"d","title":"CE Loss (UC)","labelOverlap":false}},"y":{"field":"score","type":"quantitative","scale":{"domain":[35.3,85.1],"nice":false,"zero":false},"axis":{"values":[40,50,60,70,80],"title":"CIDEr (mean)","labelOverlap":false}},
   "size":{"field":"model","type":"nominal","scale":{"domain":["0.4B","1B","3.5B","11.2B"],"range":[50,55,85,65]},"legend":null},
   "shape":{"field":"model","type":"nominal","scale":{"domain":["0.4B","1B","3.5B","11.2B"],"range":["circle","square","diamond","triangle-up"]},"legend":{"title":["Model sizes"," "],"orient":"none","legendX":425,"legendY":256,"direction":"horizontal","titleOrient":"left","titleBaseline":"bottom","titleLineHeight":23}},
   "color":{"field":"model","type":"nominal","scale":{"domain":["0.4B","1B","3.5B","11.2B"],"range":["#4878d0","#6acc64","#d65f5f","#956cb4"]},"legend":{"title":["Model sizes"," "],"orient":"none","legendX":425,"legendY":256,"direction":"horizontal","titleOrient":"left","titleBaseline":"bottom","titleLineHeight":23}},
   "strokeDash":{"field":"split","type":"nominal","scale":{"domain":["UC (Unseen Captioning)","ST (Seen Translation)","SC (Seen Captioning)"],"range":[[1,0],[1,0],[1,0]]},"legend":{"title":"Task splits","orient":"none","legendX":-25,"legendY":238,"direction":"horizontal","titleAnchor":"middle","titlePadding":9,"symbolOpacity":0,"symbolSize":1,"columnPadding":40}}}},
  {"data":{"values":[{"a":"57.46 · C","e":"−0.22","r":"R² = 0.52"}]},"layer":[
   {"mark":{"type":"text","align":"left","baseline":"middle","fontSize":8.5,"color":"#ee854a"},"encoding":{"x":{"datum":2.79,"type":"quantitative","scale":{"domain":[2.67,4.6],"nice":false,"zero":false},"axis":{"values":[3,4],"format":"d","title":"CE Loss (UC)","labelOverlap":false}},"y":{"datum":79.6,"type":"quantitative","scale":{"domain":[35.3,85.1],"nice":false,"zero":false},"axis":{"values":[40,50,60,70,80],"title":"CIDEr (mean)","labelOverlap":false}},"text":{"field":"a"}}},
   {"mark":{"type":"text","align":"left","baseline":"middle","fontSize":6.5,"dx":35,"dy":-4.5,"color":"#ee854a"},"encoding":{"x":{"datum":2.79,"type":"quantitative","scale":{"domain":[2.67,4.6],"nice":false,"zero":false},"axis":{"values":[3,4],"format":"d","title":"CE Loss (UC)","labelOverlap":false}},"y":{"datum":79.6,"type":"quantitative","scale":{"domain":[35.3,85.1],"nice":false,"zero":false},"axis":{"values":[40,50,60,70,80],"title":"CIDEr (mean)","labelOverlap":false}},"text":{"field":"e"}}},
   {"mark":{"type":"text","align":"left","baseline":"middle","fontSize":8.5,"color":"#ee854a"},"encoding":{"x":{"datum":2.79,"type":"quantitative","scale":{"domain":[2.67,4.6],"nice":false,"zero":false},"axis":{"values":[3,4],"format":"d","title":"CE Loss (UC)","labelOverlap":false}},"y":{"datum":72.7,"type":"quantitative","scale":{"domain":[35.3,85.1],"nice":false,"zero":false},"axis":{"values":[40,50,60,70,80],"title":"CIDEr (mean)","labelOverlap":false}},"text":{"field":"r"}}}]}
 ]}
]
}
